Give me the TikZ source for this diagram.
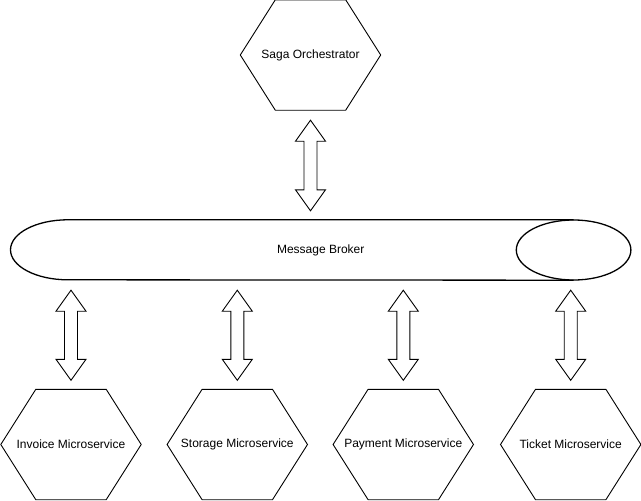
\documentclass[tikz,border=0pt]{standalone}
\usepackage{fontspec}
\setmainfont{Liberation Sans}
\usetikzlibrary{calc}
\tikzset{
  hexnode/.style={minimum width=140pt, minimum height=110pt, inner sep=0pt, font=\fontsize{12pt}{14pt}\selectfont},
  hexline/.style={draw=black, line width=0.9pt, line join=miter},
  cylline/.style={draw=black, line width=1.3pt},
  fatarrow/.style={draw=black, line width=0.9pt, fill=white, line join=miter},
  busnode/.style={minimum width=620pt, minimum height=60pt, inner sep=0pt, font=\fontsize{12pt}{14pt}\selectfont}
}
\newcommand{\vdarrow}[2]{%
  \draw[fatarrow] let \p1=(#1), \p2=(#2) in
    (\x1,\y1) -- (\x1+15pt,\y1-21pt) -- (\x1+6.5pt,\y1-21pt) -- (\x1+6.5pt,\y2+21pt)
    -- (\x1+15pt,\y2+21pt) -- (\x1,\y2) -- (\x1-15pt,\y2+21pt) -- (\x1-6.5pt,\y2+21pt)
    -- (\x1-6.5pt,\y1-21pt) -- (\x1-15pt,\y1-21pt) -- cycle;}
\begin{document}
\begin{tikzpicture}[x=1pt,y=-1pt]
\useasboundingbox (0,0) rectangle (641,501);
% nodes
\node[hexnode] (orch) at (310.5,55) {Saga Orchestrator};
\node[busnode] (broker) at (320.7,250) {Message Broker};
\node[hexnode] (inv) at (71,444.5) {Invoice Microservice};
\node[hexnode] (sto) at (237.3,444.5) {Storage Microservice};
\node[hexnode] (pay) at (403.3,444.5) {Payment Microservice};
\node[hexnode] (tic) at (570.7,444.5) {Ticket Microservice};
% hexagon outlines
\foreach \n in {orch,inv,sto,pay,tic}{
  \draw[hexline] (\n.west) -- ($(\n.north west)+(35pt,0)$) -- ($(\n.north east)+(-35pt,0)$)
    -- (\n.east) -- ($(\n.south east)+(-35pt,0)$) -- ($(\n.south west)+(35pt,0)$) -- cycle;
}
% cylinder (message broker)
\draw[cylline] ($(broker.north east)+(-57.3pt,0)$) -- ($(broker.north west)+(57.3pt,0)$)
  arc[start angle=90, end angle=270, x radius=57.3pt, y radius=30pt]
  -- ($(broker.south east)+(-57.3pt,0)$);
\draw[cylline] ($(broker.east)+(-57.3pt,0)$) ellipse[x radius=57.3pt, y radius=30pt];
% connectors
\coordinate (oT) at ($(orch.south)+(0,-10pt)$);
\coordinate (oB) at ($(orch.south |- broker.north)+(0,9pt)$);
\vdarrow{oT}{oB}
\coordinate (invT) at ($(inv.north |- broker.south)+(0,-10pt)$);
\coordinate (invB) at ($(inv.north)+(0,9pt)$);
\vdarrow{invT}{invB}
\coordinate (stoT) at ($(sto.north |- broker.south)+(0,-10pt)$);
\coordinate (stoB) at ($(sto.north)+(0,9pt)$);
\vdarrow{stoT}{stoB}
\coordinate (payT) at ($(pay.north |- broker.south)+(0,-10pt)$);
\coordinate (payB) at ($(pay.north)+(0,9pt)$);
\vdarrow{payT}{payB}
\coordinate (ticT) at ($(tic.north |- broker.south)+(0,-10pt)$);
\coordinate (ticB) at ($(tic.north)+(0,9pt)$);
\vdarrow{ticT}{ticB}
\end{tikzpicture}
\end{document}
